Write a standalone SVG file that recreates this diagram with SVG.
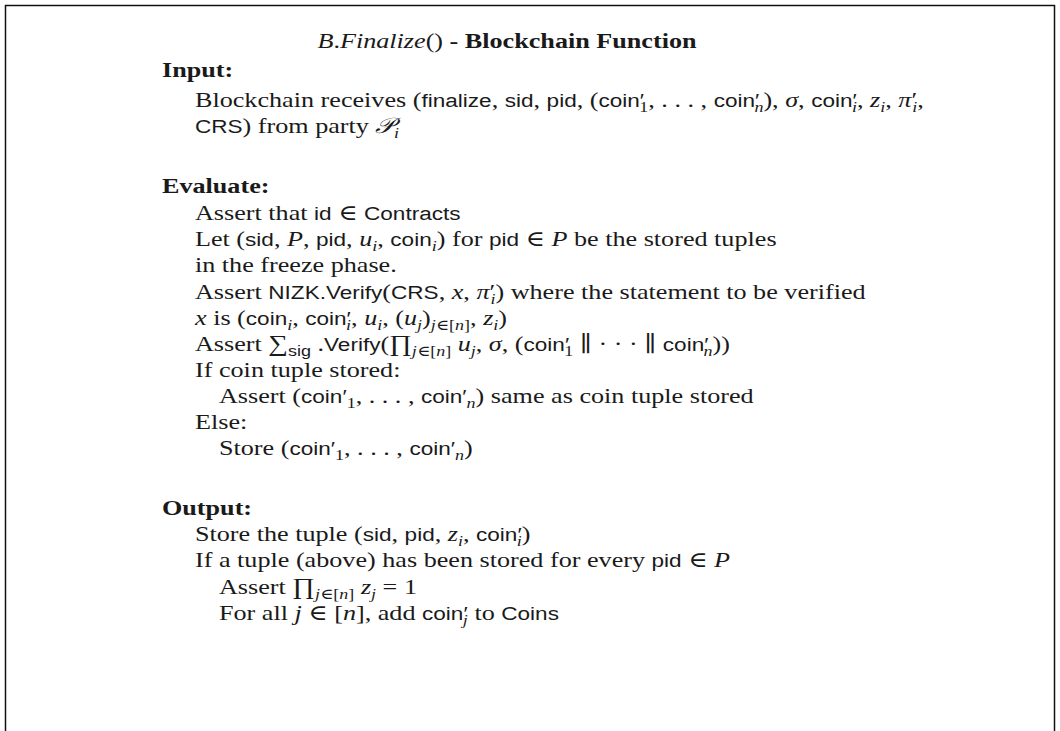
<svg xmlns="http://www.w3.org/2000/svg" width="1060" height="731" viewBox="0 0 1060 731">
<style>
text{font-family:"Liberation Serif","DejaVu Serif",serif;font-size:21.8px;fill:#1a1a1a}
.b{font-weight:bold}
.sf{font-family:"Liberation Sans","DejaVu Sans",sans-serif;font-size:18.8px}
.i{font-style:italic}
.sb{font-size:15px}
.op{font-size:23px}
</style>
<rect width="1060" height="731" fill="#fff"/>
<path d="M5.5 731V5.5H1054.5V731" fill="none" stroke="#111" stroke-width="1.5"/>

<!-- text is set a little wide, like a Palatino face -->
<g transform="matrix(1.2 0 0 1 -31.8 0)">
<g id="title">
<text x="449" y="48" text-anchor="middle"><tspan class="i">B</tspan>.<tspan class="i">Finalize</tspan>() <tspan class="b">- Blockchain Function</tspan></text>
</g>

<g id="input">
<text class="b" x="161.5" y="77">Input:</text>
<text x="189" y="107">Blockchain receives (<tspan class="sf">finalize</tspan>, <tspan class="sf">sid</tspan>, <tspan class="sf">pid</tspan>, (<tspan class="sf">coin′</tspan><tspan class="sb" dx="-4" dy="5">1</tspan><tspan dy="-5">, . . . , </tspan><tspan class="sf">coin′</tspan><tspan class="sb i" dx="-4" dy="5">n</tspan><tspan dy="-5">), </tspan><tspan class="i">σ</tspan>, <tspan class="sf">coin′</tspan><tspan class="sb i" dx="-4" dy="5">i</tspan><tspan dy="-5">, </tspan><tspan class="i">z</tspan><tspan class="sb i" dy="5">i</tspan><tspan dy="-5">, </tspan><tspan class="i">π</tspan>′<tspan class="sb i" dx="-4" dy="5">i</tspan><tspan dy="-5">,</tspan></text>
<text x="189" y="133"><tspan class="sf">CRS</tspan>) from party <tspan class="i">𝒫</tspan><tspan class="sb i" dy="5">i</tspan></text>
</g>

<g id="evaluate">
<text class="b" x="161.5" y="193">Evaluate:</text>
<text x="189" y="220">Assert that <tspan class="sf">id</tspan> ∈ <tspan class="sf">Contracts</tspan></text>
<text x="189" y="246">Let (<tspan class="sf">sid</tspan>, <tspan class="i">P</tspan>, <tspan class="sf">pid</tspan>, <tspan class="i">u</tspan><tspan class="sb i" dy="5">i</tspan><tspan dy="-5">, </tspan><tspan class="sf">coin</tspan><tspan class="sb i" dy="5">i</tspan><tspan dy="-5">) for </tspan><tspan class="sf">pid</tspan> ∈ <tspan class="i">P</tspan> be the stored tuples</text>
<text x="189" y="272">in the freeze phase.</text>
<text x="189" y="299">Assert <tspan class="sf">NIZK.Verify</tspan>(<tspan class="sf">CRS</tspan>, <tspan class="i">x</tspan>, <tspan class="i">π</tspan>′<tspan class="sb i" dx="-4" dy="5">i</tspan><tspan dy="-5">) where the statement to be verified</tspan></text>
<text x="189" y="325"><tspan class="i">x</tspan> is (<tspan class="sf">coin</tspan><tspan class="sb i" dy="5">i</tspan><tspan dy="-5">, </tspan><tspan class="sf">coin′</tspan><tspan class="sb i" dx="-4" dy="5">i</tspan><tspan dy="-5">, </tspan><tspan class="i">u</tspan><tspan class="sb i" dy="5">i</tspan><tspan dy="-5">, (</tspan><tspan class="i">u</tspan><tspan class="sb i" dy="5">j</tspan><tspan dy="-5">)</tspan><tspan class="sb" dy="5"><tspan class="i">j</tspan>∈[<tspan class="i">n</tspan>]</tspan><tspan dy="-5">, </tspan><tspan class="i">z</tspan><tspan class="sb i" dy="5">i</tspan><tspan dy="-5">)</tspan></text>
<text x="189" y="351">Assert <tspan class="op">∑</tspan><tspan class="sb sf" dy="5">sig</tspan><tspan dy="-5"> .</tspan><tspan class="sf">Verify</tspan>(<tspan class="op">∏</tspan><tspan class="sb" dy="5"><tspan class="i">j</tspan>∈[<tspan class="i">n</tspan>]</tspan><tspan dy="-5"> </tspan><tspan class="i">u</tspan><tspan class="sb i" dy="5">j</tspan><tspan dy="-5">, </tspan><tspan class="i">σ</tspan>, (<tspan class="sf">coin′</tspan><tspan class="sb" dx="-4" dy="5">1</tspan><tspan dy="-5"> ∥ · · · ∥ </tspan><tspan class="sf">coin′</tspan><tspan class="sb i" dx="-4" dy="5">n</tspan><tspan dy="-5">))</tspan></text>
<text x="189" y="377">If coin tuple stored:</text>
<text x="209" y="403">Assert (<tspan class="sf">coin′</tspan><tspan class="sb" dy="5">1</tspan><tspan dy="-5">, . . . , </tspan><tspan class="sf">coin′</tspan><tspan class="sb i" dy="5">n</tspan><tspan dy="-5">) same as coin tuple stored</tspan></text>
<text x="189" y="429">Else:</text>
<text x="209" y="455">Store (<tspan class="sf">coin′</tspan><tspan class="sb" dy="5">1</tspan><tspan dy="-5">, . . . , </tspan><tspan class="sf">coin′</tspan><tspan class="sb i" dy="5">n</tspan><tspan dy="-5">)</tspan></text>
</g>

<g id="output">
<text class="b" x="161.5" y="515">Output:</text>
<text x="189" y="541">Store the tuple (<tspan class="sf">sid</tspan>, <tspan class="sf">pid</tspan>, <tspan class="i">z</tspan><tspan class="sb i" dy="5">i</tspan><tspan dy="-5">, </tspan><tspan class="sf">coin′</tspan><tspan class="sb i" dx="-4" dy="5">i</tspan><tspan dy="-5">)</tspan></text>
<text x="189" y="567">If a tuple (above) has been stored for every <tspan class="sf">pid</tspan> ∈ <tspan class="i">P</tspan></text>
<text x="209" y="594">Assert <tspan class="op">∏</tspan><tspan class="sb" dy="5"><tspan class="i">j</tspan>∈[<tspan class="i">n</tspan>]</tspan><tspan dy="-5"> </tspan><tspan class="i">z</tspan><tspan class="sb i" dy="5">j</tspan><tspan dy="-5"> = 1</tspan></text>
<text x="209" y="620">For all <tspan class="i">j</tspan> ∈ [<tspan class="i">n</tspan>], add <tspan class="sf">coin′</tspan><tspan class="sb i" dx="-4" dy="5">j</tspan><tspan dy="-5"> to </tspan><tspan class="sf">Coins</tspan></text>
</g>
</g>
</svg>
